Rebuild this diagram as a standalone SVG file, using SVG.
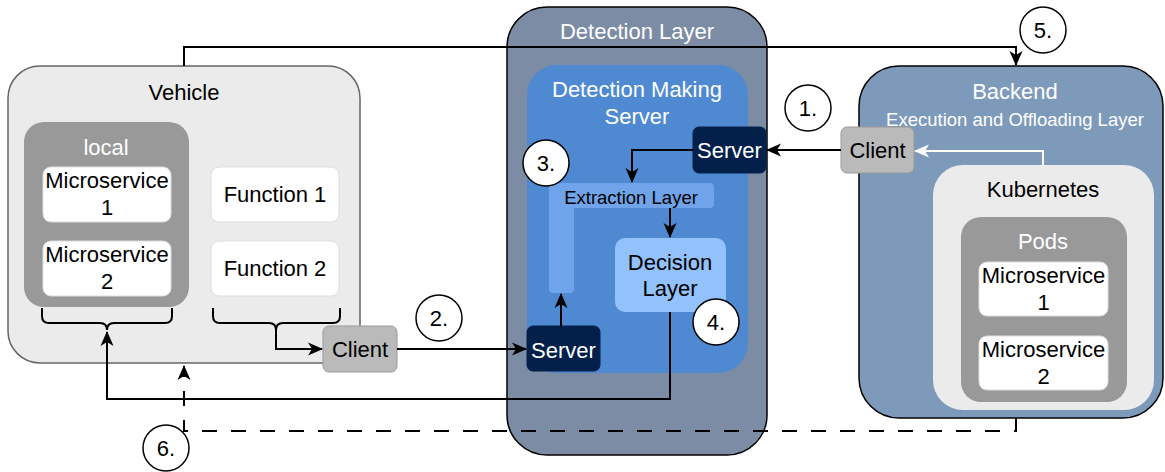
<svg xmlns="http://www.w3.org/2000/svg" width="1165" height="472" viewBox="0 0 1165 472">
  <defs>
    <marker id="arrow" viewBox="0 0 15 14" refX="14" refY="7" markerWidth="15" markerHeight="14" markerUnits="userSpaceOnUse" orient="auto">
      <path d="M0,0.5 L15,7 L0,13.5 L4,7 z" fill="#000"/>
    </marker>
    <marker id="arrow-white" viewBox="0 0 15 14" refX="14" refY="7" markerWidth="15" markerHeight="14" markerUnits="userSpaceOnUse" orient="auto">
      <path d="M0,0.5 L15,7 L0,13.5 L4,7 z" fill="#fff"/>
    </marker>
    <style>
      text { font-family: "Liberation Sans", Arial, sans-serif; font-size: 22px; text-anchor: middle; fill: #000; }
      .w { fill: #fff; }
      .sm { font-size: 18.5px; }
      .box-white { fill: #fff; stroke: #dddddd; stroke-width: 1; }
      .client { fill: #bababa; stroke: #999; stroke-width: 1; }
      .server { fill: #02204a; stroke: #02204a; stroke-width: 1; }
      .num { fill: #fff; stroke: #000; stroke-width: 1.5; }
      .conn { fill: none; stroke: #000; stroke-width: 2; }
    </style>
  </defs>

  <!-- Vehicle -->
  <g id="vehicle">
    <rect x="8" y="66" width="352" height="297" rx="32" fill="#ebebeb" stroke="#666" stroke-width="1.5"/>
    <text x="184" y="100">Vehicle</text>
  </g>
  <g id="local">
    <rect x="24" y="122" width="165" height="185" rx="20" fill="#999"/>
    <text x="106" y="155" class="w">local</text>
  </g>
  <g id="vehicle-ms1">
    <rect x="43" y="167" width="128" height="55" rx="8" class="box-white"/>
    <text x="107" y="188">Microservice</text>
    <text x="107" y="215">1</text>
  </g>
  <g id="vehicle-ms2">
    <rect x="43" y="241" width="128" height="55" rx="8" class="box-white"/>
    <text x="107" y="262">Microservice</text>
    <text x="107" y="289">2</text>
  </g>
  <g id="function1">
    <rect x="211" y="167" width="128" height="55" rx="8" class="box-white"/>
    <text x="275" y="202">Function 1</text>
  </g>
  <g id="function2">
    <rect x="211" y="241" width="128" height="55" rx="8" class="box-white"/>
    <text x="275" y="276">Function 2</text>
  </g>
  <g id="vehicle-client">
    <rect x="323" y="326" width="74" height="46" rx="6" class="client"/>
    <text x="360" y="357">Client</text>
  </g>

  <!-- Detection layer -->
  <g id="detection-layer">
    <rect x="507" y="7" width="260" height="448" rx="40" fill="#7c8ca4" stroke="#000" stroke-width="1.5"/>
    <text x="637" y="39" class="w">Detection Layer</text>
  </g>
  <g id="detection-server">
    <rect x="527" y="65" width="221" height="308" rx="30" fill="#4f89d1"/>
    <text x="637" y="97" class="w">Detection Making</text>
    <text x="637" y="124" class="w">Server</text>
  </g>
  <g id="extraction-layer">
    <path d="M553,183 H710 a4,4 0 0 1 4,4 V204 a4,4 0 0 1 -4,4 H574 V289 a4,4 0 0 1 -4,4 H553 a4,4 0 0 1 -4,-4 V187 a4,4 0 0 1 4,-4 z" fill="#6fa4ea"/>
    <text x="631" y="203.5" class="sm">Extraction Layer</text>
  </g>
  <g id="decision-layer">
    <rect x="615" y="238" width="111" height="74" rx="10" fill="#92c1fc"/>
    <text x="670" y="270">Decision</text>
    <text x="670" y="296">Layer</text>
  </g>
  <g id="server-top">
    <rect x="693" y="127" width="73" height="46" rx="6" class="server"/>
    <text x="729.5" y="158" class="w">Server</text>
  </g>
  <g id="server-bottom">
    <rect x="527" y="326" width="73" height="45" rx="6" class="server"/>
    <text x="563.5" y="358" class="w">Server</text>
  </g>

  <!-- Backend -->
  <g id="backend">
    <rect x="859" y="66" width="304" height="352" rx="40" fill="#7e9aba" stroke="#000" stroke-width="1.5"/>
    <text x="1015" y="99" class="w">Backend</text>
    <text x="1015" y="125.5" class="w sm">Execution and Offloading Layer</text>
  </g>
  <g id="kubernetes">
    <rect x="933" y="165" width="221" height="245" rx="30" fill="#ebebeb"/>
    <text x="1043" y="197">Kubernetes</text>
  </g>
  <g id="pods">
    <rect x="961" y="217" width="166" height="185" rx="20" fill="#999"/>
    <text x="1043" y="249" class="w">Pods</text>
  </g>
  <g id="pods-ms1">
    <rect x="979" y="262" width="129" height="54" rx="8" class="box-white"/>
    <text x="1043.5" y="283">Microservice</text>
    <text x="1043.5" y="310">1</text>
  </g>
  <g id="pods-ms2">
    <rect x="979" y="336" width="129" height="54" rx="8" class="box-white"/>
    <text x="1043.5" y="357">Microservice</text>
    <text x="1043.5" y="384">2</text>
  </g>
  <g id="backend-client">
    <rect x="841" y="127" width="73" height="46" rx="6" class="client"/>
    <text x="877.5" y="158">Client</text>
  </g>

  <!-- Connectors -->
  <g id="connectors">
    <!-- braces under the local services and the functions -->
    <path class="conn" stroke-width="1.5" d="M42,308 v8 q0,7 7,7 H100 q7,0 7,7 q0,-7 7,-7 H165 q7,0 7,-7 v-8"/>
    <path class="conn" stroke-width="1.5" d="M213,308 v8 q0,7 7,7 H269 q7,0 7,7 q0,-7 7,-7 H333 q7,0 7,-7 v-8"/>
    <!-- functions to vehicle client -->
    <path class="conn" d="M276,330 V349 H322" marker-end="url(#arrow)"/>
    <!-- step 2: vehicle client to detection server -->
    <path class="conn" d="M397,349 H526" marker-end="url(#arrow)"/>
    <!-- bottom server up into extraction layer -->
    <path class="conn" d="M561,326 V294" marker-end="url(#arrow)"/>
    <!-- step 1: backend client to top server -->
    <path class="conn" d="M841,150 H767" marker-end="url(#arrow)"/>
    <!-- kubernetes to backend client -->
    <path fill="none" stroke="#fff" stroke-width="2" d="M1043,165 V151 H915" marker-end="url(#arrow-white)"/>
    <!-- top server down to extraction layer -->
    <path class="conn" d="M693,150 H632 V182" marker-end="url(#arrow)"/>
    <!-- extraction to decision -->
    <path class="conn" d="M670,208 V237" marker-end="url(#arrow)"/>
    <!-- step 4: decision back to vehicle -->
    <path class="conn" d="M670,312 V399 H107 V332" marker-end="url(#arrow)"/>
    <!-- step 5: vehicle to backend -->
    <path class="conn" d="M184,66 V47 H1016 V65" marker-end="url(#arrow)"/>
    <!-- step 6: backend back to vehicle (dashed) -->
    <path class="conn" stroke-dasharray="15 14" d="M1016,418 V431 H184 V366" marker-end="url(#arrow)"/>
  </g>

  <!-- Step numbers -->
  <g id="step-1"><circle cx="808" cy="108" r="23" class="num"/><text x="808" y="115.5">1.</text></g>
  <g id="step-2"><circle cx="439" cy="318" r="23" class="num"/><text x="439" y="325.5">2.</text></g>
  <g id="step-3"><circle cx="546" cy="163" r="23" class="num"/><text x="546" y="170.5">3.</text></g>
  <g id="step-4"><circle cx="716" cy="322" r="23" class="num"/><text x="716" y="329.5">4.</text></g>
  <g id="step-5"><circle cx="1043" cy="30" r="23" class="num"/><text x="1043" y="37.5">5.</text></g>
  <g id="step-6"><circle cx="166" cy="448" r="23" class="num"/><text x="166" y="455.5">6.</text></g>
</svg>
